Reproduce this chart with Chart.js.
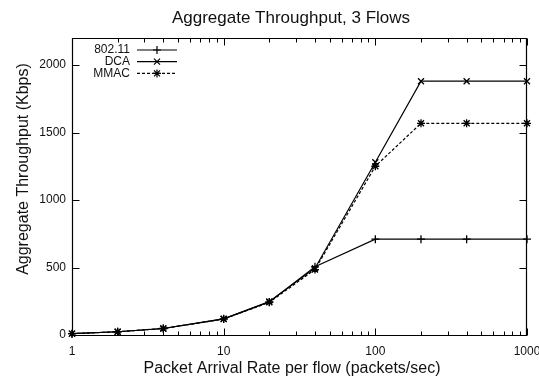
<!DOCTYPE html>
<html>
<head>
<meta charset="utf-8">
<script src="https://cdn.jsdelivr.net/npm/chart.js@4.4.1/dist/chart.umd.min.js"></script>
<style>
    body { margin: 0; background: #fff; }
    #wrap { width: 539px; height: 379px; position: relative; }
</style>
</head>
<body>
<div id="wrap"><canvas id="throughputChart"></canvas></div>
<script>
const xValues = [1, 2, 4, 10, 20, 40, 100, 200, 400, 1000];
const wifiValues = [10, 24, 48, 120, 245, 505, 710, 710, 710, 710];
const dcaValues = [10, 24, 48, 120, 248, 495, 1280, 1880, 1880, 1880];
const mmacValues = [10, 24, 48, 118, 242, 485, 1250, 1568, 1568, 1568];
const seriesNames = ['802.11', 'DCA', 'MMAC'];
const yTickValues = [0, 500, 1000, 1500, 2000];
const xTickValues = [1, 10, 100, 1000];
const xMinorValues = [2, 3, 4, 5, 6, 7, 8, 9, 20, 30, 40, 50, 60, 70, 80, 90, 200, 300, 400, 500, 600, 700, 800, 900];
const chartTitle = 'Aggregate Throughput, 3 Flows';
const xTitle = 'Packet Arrival Rate per flow (packets/sec)';
const yTitle = 'Aggregate Throughput (Kbps)';

const FONT = '"Liberation Sans", Arial, sans-serif';

function points(values) {
    return xValues.map((x, i) => ({ x: x, y: values[i] }));
}

function drawMarker(ctx, style, cx, cy, r) {
    ctx.beginPath();
    if (style === 'cross' || style === 'star') {
        ctx.moveTo(cx - r, cy); ctx.lineTo(cx + r, cy);
        ctx.moveTo(cx, cy - r); ctx.lineTo(cx, cy + r);
    }
    if (style === 'crossRot' || style === 'star') {
        const d = r * 0.75;
        ctx.moveTo(cx - d, cy - d); ctx.lineTo(cx + d, cy + d);
        ctx.moveTo(cx - d, cy + d); ctx.lineTo(cx + d, cy - d);
    }
    ctx.stroke();
}

const gnuplotFrame = {
    id: 'gnuplotFrame',
    afterDraw(chart) {
        const { ctx, chartArea: a, scales } = chart;
        const x = scales.x, y = scales.y;
        const L = Math.round(a.left) + 0.5, R = Math.round(a.right) - 0.5;
        const T = Math.round(a.top) + 0.5, B = Math.round(a.bottom) + 0.5;
        ctx.save();
        ctx.strokeStyle = '#000';
        ctx.lineWidth = 1.2;
        ctx.setLineDash([]);
        ctx.beginPath();
        ctx.moveTo(L, T); ctx.lineTo(R, T); ctx.lineTo(R, B); ctx.lineTo(L, B); ctx.closePath();
        ctx.stroke();

        ctx.lineWidth = 1;
        ctx.beginPath();
        const xTick = (v, len) => {
            const px = Math.round(x.getPixelForValue(v)) + 0.5;
            ctx.moveTo(px, B); ctx.lineTo(px, B - len);
            ctx.moveTo(px, T); ctx.lineTo(px, T + len);
        };
        xTickValues.forEach(v => xTick(v, 7));
        xMinorValues.forEach(v => xTick(v, 4));
        yTickValues.forEach(v => {
            const py = Math.round(y.getPixelForValue(v)) + 0.5;
            ctx.moveTo(L, py); ctx.lineTo(L + 7, py);
            ctx.moveTo(R, py); ctx.lineTo(R - 7, py);
        });
        ctx.stroke();

        // titles
        ctx.fillStyle = '#111';
        ctx.textAlign = 'center';
        ctx.textBaseline = 'middle';
        ctx.font = '17px ' + FONT;
        ctx.fillText(chartTitle, 291, 18);
        ctx.font = '16px ' + FONT;
        ctx.fillText(xTitle, 292, 369);
        ctx.save();
        ctx.translate(24, 169);
        ctx.rotate(-Math.PI / 2);
        ctx.fillText(yTitle, 0, 0);
        ctx.restore();

        // legend, gnuplot style: label then line sample
        ctx.font = '12px ' + FONT;
        ctx.textAlign = 'right';
        chart.data.datasets.forEach((ds, i) => {
            const ry = 50 + i * 11.7;
            ctx.fillText(ds.label, 130, ry);
            ctx.beginPath();
            ctx.setLineDash(ds.borderDash || []);
            ctx.lineWidth = ds.borderWidth;
            ctx.moveTo(137, ry); ctx.lineTo(177, ry);
            ctx.stroke();
            ctx.setLineDash([]);
            drawMarker(ctx, ds.pointStyle, 157, ry, 4);
        });
        ctx.restore();
    },
};

const markerPlugin = {
    id: 'markerPlugin',
    afterDatasetsDraw(chart) {
        const ctx = chart.ctx;
        ctx.save();
        ctx.strokeStyle = '#000';
        ctx.lineWidth = 1.3;
        chart.data.datasets.forEach((ds, i) => {
            chart.getDatasetMeta(i).data.forEach(pt => {
                drawMarker(ctx, ds.pointStyle, pt.x, pt.y, 4);
            });
        });
        ctx.restore();
    },
};

const ctx = document.getElementById('throughputChart');

new Chart(ctx, {
    type: 'line',
    data: {
        datasets: [
            {
                label: seriesNames[0],
                data: points(wifiValues),
                borderColor: '#000',
                borderWidth: 1.2,
                pointStyle: 'cross',
                pointRadius: 0,
            },
            {
                label: seriesNames[1],
                data: points(dcaValues),
                borderColor: '#000',
                borderWidth: 1.2,
                pointStyle: 'crossRot',
                pointRadius: 0,
            },
            {
                label: seriesNames[2],
                data: points(mmacValues),
                borderColor: '#000',
                borderWidth: 1.2,
                borderDash: [3, 2],
                pointStyle: 'star',
                pointRadius: 0,
            },
        ],
    },
    options: {
        responsive: true,
        maintainAspectRatio: false,
        animation: false,
        layout: {
            padding: { top: 38, right: 12, left: 0, bottom: 0 },
        },
        plugins: {
            legend: { display: false },
            tooltip: { enabled: false },
        },
        scales: {
            x: {
                type: 'logarithmic',
                min: 1,
                max: 1000,
                grid: { display: false, drawTicks: false },
                border: { display: false },
                afterBuildTicks: function (scale) {
                    scale.ticks = xTickValues.map(v => ({ value: v }));
                },
                afterFit: function (scale) {
                    scale.height = 44;
                    scale.paddingLeft = 0;
                    scale.paddingRight = 0;
                },
                ticks: {
                    autoSkip: false,
                    maxRotation: 0,
                    minRotation: 0,
                    padding: 9,
                    color: '#111',
                    font: { family: FONT, size: 12 },
                    callback: function (value) {
                        return String(value);
                    },
                },
            },
            y: {
                min: 0,
                max: 2200,
                grid: { display: false, drawTicks: false },
                border: { display: false },
                afterBuildTicks: function (scale) {
                    scale.ticks = yTickValues.map(v => ({ value: v }));
                },
                afterFit: function (scale) {
                    scale.width = 72;
                    scale.paddingTop = 0;
                    scale.paddingBottom = 0;
                },
                ticks: {
                    padding: 6,
                    color: '#111',
                    font: { family: FONT, size: 12 },
                    callback: function (value) {
                        return String(value);
                    },
                },
            },
        },
    },
    plugins: [gnuplotFrame, markerPlugin],
});
</script>
</body>
</html>
